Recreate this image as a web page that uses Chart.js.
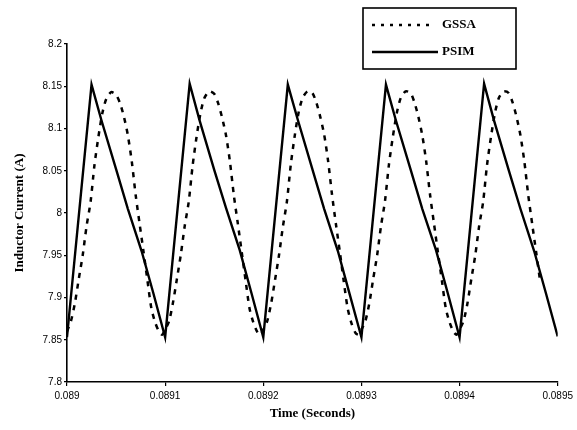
<!DOCTYPE html>
<html>
<head>
<meta charset="utf-8">
<script src="https://cdn.jsdelivr.net/npm/chart.js@4.4.0/dist/chart.umd.min.js"></script>
<style>
  html, body { margin: 0; padding: 0; background: #fff; }
  #wrap { width: 577px; height: 430px; }
</style>
</head>
<body>
<div id="wrap"><canvas id="current-chart" width="577" height="430"></canvas></div>
<script>
// values (time in seconds, current in amps)
const psimTime = [
    0.089000, 0.089025, 0.089035, 0.089050, 0.089062, 0.089076, 0.089088,
    0.089100, 0.089125, 0.089135, 0.089150, 0.089162, 0.089176, 0.089188,
    0.089200, 0.089225, 0.089235, 0.089250, 0.089262, 0.089276, 0.089288,
    0.089300, 0.089325, 0.089335, 0.089350, 0.089362, 0.089376, 0.089388,
    0.089400, 0.089425, 0.089435, 0.089450, 0.089462, 0.089476, 0.089488,
    0.089500
];
const psimCurrent = [
    7.853, 8.152, 8.110, 8.052, 8.005, 7.955, 7.905,
    7.853, 8.153, 8.110, 8.051, 8.006, 7.956, 7.905,
    7.853, 8.152, 8.111, 8.052, 8.005, 7.955, 7.904,
    7.853, 8.152, 8.110, 8.052, 8.005, 7.956, 7.905,
    7.853, 8.153, 8.110, 8.051, 8.005, 7.955, 7.905,
    7.854
];

const gssaTime = [
    0.089000, 0.089004, 0.089008, 0.089012, 0.089016, 0.089020, 0.089024, 0.089028,
    0.089032, 0.089036, 0.089040, 0.089045, 0.089050, 0.089054, 0.089058, 0.089062,
    0.089066, 0.089070, 0.089074, 0.089078, 0.089082, 0.089086, 0.089090, 0.089094, 0.089097,
    0.089100, 0.089104, 0.089108, 0.089112, 0.089116, 0.089120, 0.089124, 0.089128,
    0.089132, 0.089136, 0.089140, 0.089145, 0.089150, 0.089154, 0.089158, 0.089162,
    0.089166, 0.089170, 0.089174, 0.089178, 0.089182, 0.089186, 0.089190, 0.089194, 0.089197,
    0.089200, 0.089204, 0.089208, 0.089212, 0.089216, 0.089220, 0.089224, 0.089228,
    0.089232, 0.089236, 0.089240, 0.089245, 0.089250, 0.089254, 0.089258, 0.089262,
    0.089266, 0.089270, 0.089274, 0.089278, 0.089282, 0.089286, 0.089290, 0.089294, 0.089297,
    0.089300, 0.089304, 0.089308, 0.089312, 0.089316, 0.089320, 0.089324, 0.089328,
    0.089332, 0.089336, 0.089340, 0.089345, 0.089350, 0.089354, 0.089358, 0.089362,
    0.089366, 0.089370, 0.089374, 0.089378, 0.089382, 0.089386, 0.089390, 0.089394, 0.089397,
    0.089400, 0.089404, 0.089408, 0.089412, 0.089416, 0.089420, 0.089424, 0.089428,
    0.089432, 0.089436, 0.089440, 0.089445, 0.089450, 0.089454, 0.089458, 0.089462,
    0.089466, 0.089470, 0.089474, 0.089478, 0.089482
];
const gssaCurrent = [
    7.860, 7.872, 7.893, 7.922, 7.950, 7.985, 8.013, 8.057,
    8.090, 8.118, 8.135, 8.143, 8.140, 8.130, 8.114, 8.092,
    8.061, 8.021, 7.987, 7.954, 7.920, 7.887, 7.870, 7.859, 7.856,
    7.862, 7.872, 7.894, 7.922, 7.951, 7.985, 8.013, 8.056,
    8.090, 8.118, 8.136, 8.144, 8.141, 8.130, 8.113, 8.092,
    8.061, 8.021, 7.988, 7.954, 7.920, 7.887, 7.870, 7.859, 7.856,
    7.862, 7.872, 7.893, 7.921, 7.950, 7.984, 8.013, 8.057,
    8.091, 8.119, 8.136, 8.144, 8.142, 8.131, 8.114, 8.093,
    8.062, 8.022, 7.987, 7.954, 7.919, 7.887, 7.869, 7.858, 7.856,
    7.862, 7.872, 7.893, 7.922, 7.950, 7.985, 8.014, 8.057,
    8.090, 8.118, 8.136, 8.144, 8.142, 8.131, 8.114, 8.092,
    8.061, 8.021, 7.987, 7.953, 7.920, 7.887, 7.870, 7.859, 7.856,
    7.862, 7.872, 7.893, 7.922, 7.950, 7.985, 8.013, 8.057,
    8.090, 8.118, 8.136, 8.144, 8.142, 8.131, 8.114, 8.092,
    8.061, 8.021, 7.987, 7.954, 7.920
];

const xTicks = [0.089, 0.0891, 0.0892, 0.0893, 0.0894, 0.0895];
const xTickLabels = ['0.089', '0.0891', '0.0892', '0.0893', '0.0894', '0.0895'];
const yTicks = [7.8, 7.85, 7.9, 7.95, 8, 8.05, 8.1, 8.15, 8.2];
const yTickLabels = ['7.8', '7.85', '7.9', '7.95', '8', '8.05', '8.1', '8.15', '8.2'];

function toPoints(xs, ys) {
    return xs.map((x, i) => ({ x: x, y: ys[i] }));
}

// legend is boxed above the plot, top right
const legendBox = {
    id: 'legendBox',
    afterDraw(chart) {
        const ctx = chart.ctx;
        ctx.save();
        ctx.strokeStyle = '#000';
        ctx.lineWidth = 1.6;
        ctx.strokeRect(363, 8, 153, 61);
        chart.data.datasets.forEach((ds, i) => {
            const y = 25 + i * 27;
            ctx.beginPath();
            ctx.setLineDash(i === 0 ? [3, 6] : []);
            ctx.lineWidth = ds.borderWidth;
            ctx.moveTo(372, y);
            ctx.lineTo(i === 0 ? 434 : 438, y);
            ctx.stroke();
            ctx.setLineDash([]);
            ctx.font = 'bold 13px "Liberation Serif"';
            ctx.textBaseline = 'middle';
            ctx.fillStyle = '#000';
            ctx.fillText(ds.label, 442, y);
        });
        ctx.restore();
    }
};

const ctx = document.getElementById('current-chart').getContext('2d');
new Chart(ctx, {
    type: 'line',
    data: {
        datasets: [
            {
                label: 'GSSA',
                data: toPoints(gssaTime, gssaCurrent),
                borderColor: '#000',
                borderWidth: 2.5,
                borderDash: [5, 6],
                pointRadius: 0,
                tension: 0.25,
                fill: false
            },
            {
                label: 'PSIM',
                data: toPoints(psimTime, psimCurrent),
                borderColor: '#000',
                borderWidth: 2.4,
                pointRadius: 0,
                tension: 0,
                fill: false
            }
        ]
    },
    options: {
        responsive: false,
        animation: false,
        layout: { padding: { left: 0, right: 19, top: 44, bottom: 0 } },
        plugins: {
            legend: { display: false },
            tooltip: { enabled: false }
        },
        scales: {
            x: {
                type: 'linear',
                min: 0.089,
                max: 0.0895,
                afterBuildTicks: scale => { scale.ticks = xTicks.map(v => ({ value: v })); },
                afterFit: scale => { scale.height = 48; },
                ticks: {
                    callback: (v, i) => xTickLabels[i],
                    color: '#000',
                    font: { family: 'Liberation Sans', size: 10 },
                    padding: 4,
                    maxRotation: 0
                },
                grid: { drawOnChartArea: false, tickLength: 4, color: '#000', lineWidth: 1.2 },
                border: { color: '#000', width: 1.6 },
                title: {
                    display: true,
                    text: 'Time (Seconds)',
                    color: '#000',
                    font: { family: 'Liberation Serif', size: 13, weight: 'bold' },
                    padding: { top: 0, bottom: 9 }
                }
            },
            y: {
                min: 7.8,
                max: 8.2,
                afterBuildTicks: scale => { scale.ticks = yTicks.map(v => ({ value: v })); },
                afterFit: scale => { scale.width = 67; },
                ticks: {
                    callback: (v, i) => yTickLabels[i],
                    color: '#000',
                    font: { family: 'Liberation Sans', size: 10 },
                    padding: 2
                },
                grid: { drawOnChartArea: false, tickLength: 3, color: '#000', lineWidth: 1.2 },
                border: { color: '#000', width: 1.6 },
                title: {
                    display: true,
                    text: 'Inductor Current (A)',
                    color: '#000',
                    font: { family: 'Liberation Serif', size: 13, weight: 'bold' },
                    padding: { top: 12, bottom: 0 }
                }
            }
        }
    },
    plugins: [legendBox]
});
</script>
</body>
</html>
